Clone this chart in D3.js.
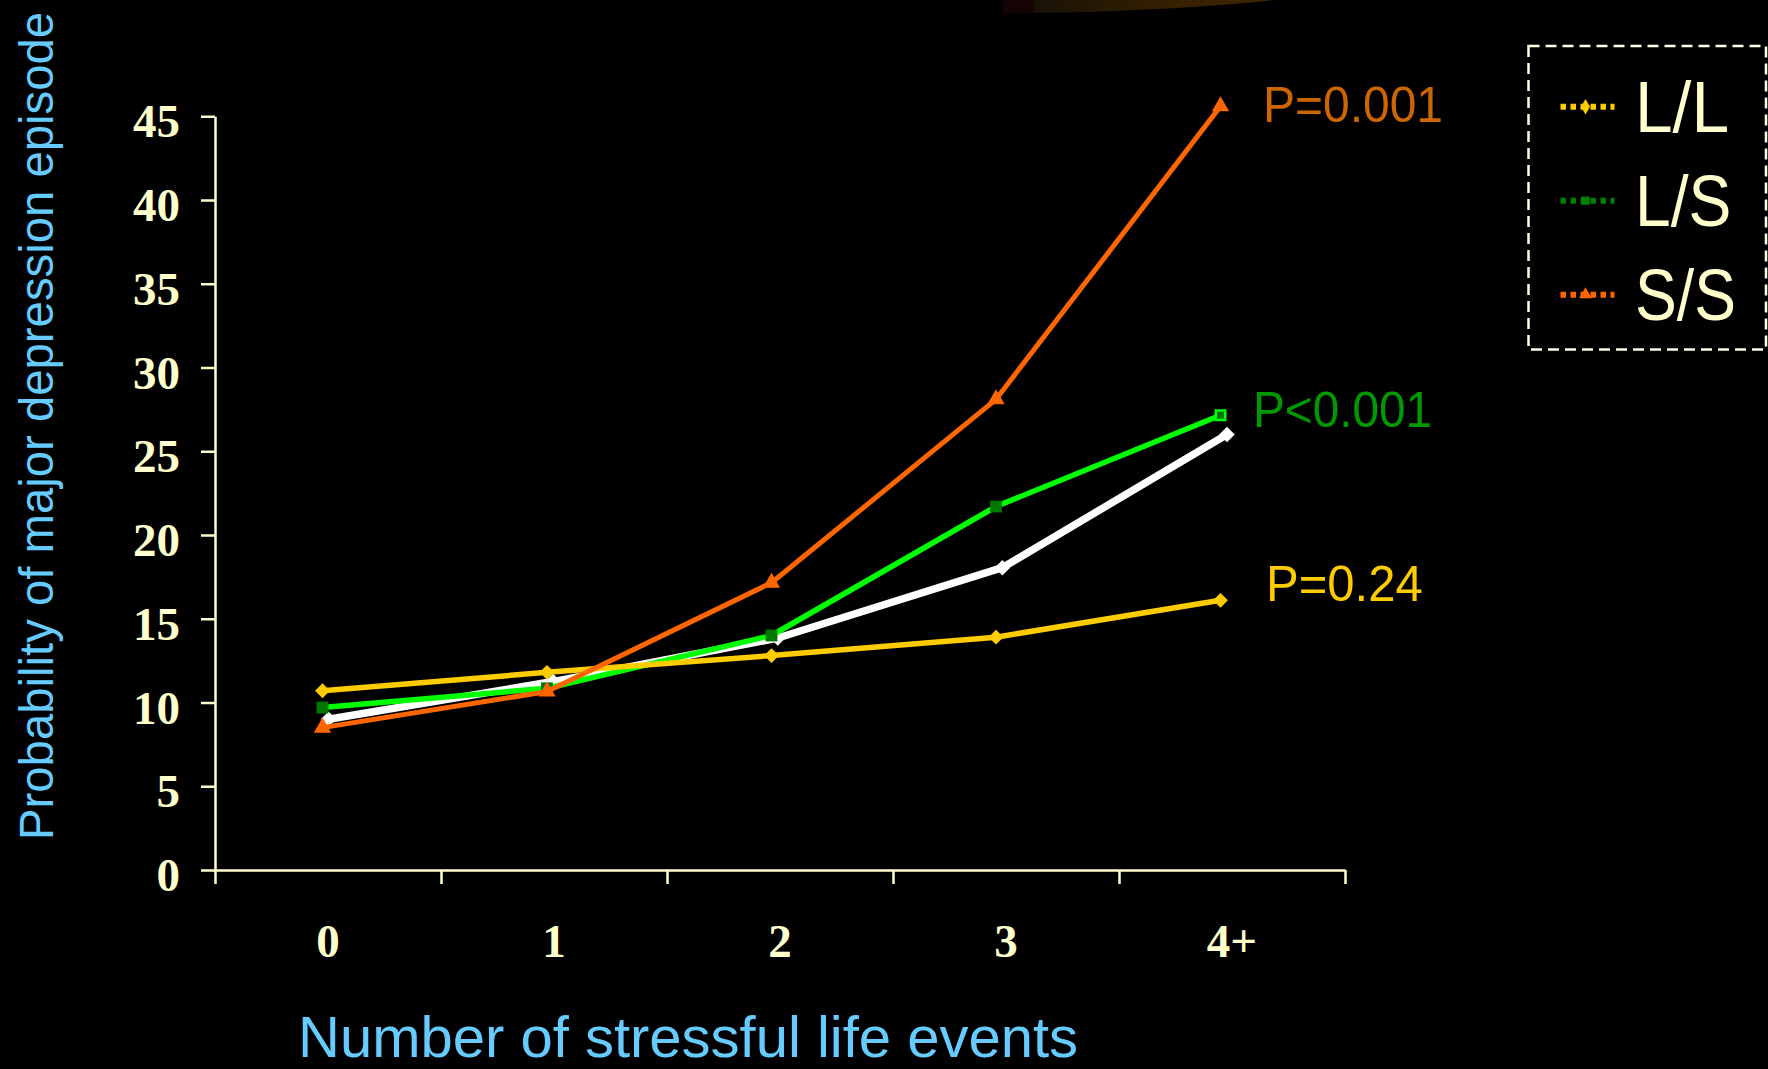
<!DOCTYPE html>
<html><head><meta charset="utf-8">
<script src="https://cdn.jsdelivr.net/npm/d3@7"></script>
<style>html,body{margin:0;padding:0;background:#000;overflow:hidden}</style>
</head><body><svg id="chart" width="1768" height="1069"></svg>
<script>
// ---- data ----
const categories = ["0", "1", "2", "3", "4+"];
const yTicks = [0, 5, 10, 15, 20, 25, 30, 35, 40, 45];
const seriesLL = [10.7, 11.8, 12.8, 13.9, 16.1];
const seriesLS = [9.7, 10.85, 14.0, 21.7, 27.15];
const seriesSS = [8.5, 10.65, 17.15, 28.1, 45.6];
const seriesAll = [9.0, 11.25, 13.85, 18.05, 26.0];
const legendLabels = ["L/L", "L/S", "S/S"];
const pLabels = ["P=0.24", "P<0.001", "P=0.001"];
const xTitle = "Number of stressful life events";
const yTitle = "Probability of major depression episode";

// ---- drawing ----
const svg = d3.select("#chart");
const cream = "#FFFFCC";
const tickFont = "'Liberation Serif','Times New Roman',serif";
const sansFont = "'Liberation Sans',Arial,sans-serif";

const y = d3.scaleLinear().domain([0, 45]).range([870, 116.25]);
const xBand = d3.scaleBand().domain(categories).range([215, 1345]);
const xEdge = d3.scaleLinear().domain([0, categories.length]).range([215, 1345]);
const xPt = d3.scalePoint().domain(categories).range([322.5, 1220.5]);
const xPtAll = d3.scalePoint().domain(categories).range([328.5, 1227]);

// decorative background arc at top
const defs = svg.append("defs");
const grad = defs.append("linearGradient").attr("id", "arcGrad")
  .attr("x1", 0).attr("x2", 1).attr("y1", 0).attr("y2", 0);
[[0, "#160303"], [0.11, "#160303"], [0.12, "#1a1306"], [0.7, "#3a2200"], [1, "#3e2500"]]
  .forEach(([o, c]) => grad.append("stop").attr("offset", o).attr("stop-color", c));
svg.append("path")
  .attr("d", "M1003,0 V13.3 C1100,13 1200,8 1274,0 Z")
  .attr("fill", "url(#arcGrad)");

// y axis
const yAxis = d3.axisLeft(y).tickValues(yTicks).tickSize(14).tickSizeOuter(0).tickPadding(21);
const gy = svg.append("g").attr("transform", "translate(215,0)").call(yAxis);
gy.select(".domain").attr("stroke", cream).attr("stroke-width", 2.5);
gy.selectAll(".tick line").attr("stroke", cream).attr("stroke-width", 2.5);
gy.selectAll(".tick text").attr("fill", cream).attr("font-family", tickFont)
  .attr("font-weight", "bold").attr("font-size", 47).attr("dy", "0.44em");

// x axis (boundary ticks)
const xAxisEdges = d3.axisBottom(xEdge).tickValues(d3.range(categories.length + 1))
  .tickFormat("").tickSize(14).tickSizeOuter(0);
const gx = svg.append("g").attr("transform", "translate(0,870)").call(xAxisEdges);
gx.select(".domain").attr("stroke", cream).attr("stroke-width", 2.5);
gx.selectAll(".tick line").attr("stroke", cream).attr("stroke-width", 2.5);

// x axis labels (band centers)
const xAxisLabels = d3.axisBottom(xBand).tickSize(0).tickPadding(54);
const gxl = svg.append("g").attr("transform", "translate(0,870)").call(xAxisLabels);
gxl.select(".domain").remove();
gxl.selectAll(".tick text").attr("fill", cream).attr("font-family", tickFont)
  .attr("font-weight", "bold").attr("font-size", 47);

// axis titles
svg.append("text").text(xTitle)
  .attr("x", 298).attr("y", 1057)
  .attr("fill", "#66CCFF").attr("font-family", sansFont).attr("font-size", 58);
svg.append("text").text(yTitle)
  .attr("transform", "translate(53,840) rotate(-90)")
  .attr("fill", "#66CCFF").attr("font-family", sansFont).attr("font-size", 47.3);

// series
function drawSeries(values, xs, color, width, markerFn) {
  const line = d3.line().x((d, i) => xs(categories[i])).y(d => y(d));
  const g = svg.append("g");
  g.append("path").datum(values).attr("d", line)
    .attr("fill", "none").attr("stroke", color).attr("stroke-width", width)
    .attr("stroke-linejoin", "round");
  values.forEach((v, i) => markerFn(g, xs(categories[i]), y(v), i));
}

const mkDiamond = (fill, size) => (g, cx, cy) =>
  g.append("path").attr("d", d3.symbol().type(d3.symbolSquare).size(size)())
    .attr("transform", `translate(${cx},${cy}) rotate(45)`).attr("fill", fill);
const mkSquare = (g, cx, cy, i) =>
  g.append("path").attr("d", d3.symbol().type(d3.symbolSquare).size(i === categories.length - 1 ? 90 : 140)())
    .attr("transform", `translate(${cx},${cy})`)
    .attr("fill", "#007700")
    .attr("stroke", i === categories.length - 1 ? "#00FF00" : "none")
    .attr("stroke-width", 2.5);
const mkTriangle = (g, cx, cy) =>
  g.append("path").attr("d", d3.symbol().type(d3.symbolTriangle).size(130)())
    .attr("transform", `translate(${cx},${cy})`).attr("fill", "#FF6600");

drawSeries(seriesAll, xPtAll, "#FFFFFF", 7.5, mkDiamond("#FFFFFF", 120));
drawSeries(seriesLS, xPt, "#00FF00", 5.5, mkSquare);
drawSeries(seriesLL, xPt, "#FFCC00", 5.5, mkDiamond("#FFCC00", 110));
drawSeries(seriesSS, xPt, "#FF6600", 5, mkTriangle);

// p-value labels
const pColors = ["#FFCC00", "#009900", "#CC6600"];
const pPos = [[1266, 601, 156.7], [1253, 427.3, 179], [1263, 121.7, 180]];
pLabels.forEach((t, i) => {
  svg.append("text").text(t)
    .attr("x", pPos[i][0]).attr("y", pPos[i][1])
    .attr("textLength", pPos[i][2]).attr("lengthAdjust", "spacingAndGlyphs")
    .attr("fill", pColors[i]).attr("font-family", sansFont).attr("font-size", 50);
});

// legend
const lg = svg.append("g");
lg.append("rect").attr("x", 1528.5).attr("y", 46).attr("width", 237.5).attr("height", 303.5)
  .attr("fill", "none").attr("stroke", "#FFFFE6").attr("stroke-width", 2.5)
  .attr("stroke-dasharray", "11,6");
const legColors = ["#FFCC00", "#008000", "#FF6600"];
const legShapes = [d3.symbolDiamond, d3.symbolSquare, d3.symbolTriangle];
const legWidths = [94, 96.5, 101];
legendLabels.forEach((t, i) => {
  const cy = 106.7 + i * 94;
  lg.append("line").attr("x1", 1560.5).attr("x2", 1614.5).attr("y1", cy).attr("y2", cy)
    .attr("stroke", legColors[i]).attr("stroke-width", 6).attr("stroke-dasharray", "5.5,4.5");
  lg.append("path").attr("d", d3.symbol().type(legShapes[i]).size(70)())
    .attr("transform", `translate(1585.5,${cy})`).attr("fill", legColors[i]);
  lg.append("text").text(t).attr("x", 1635).attr("y", cy + 25)
    .attr("textLength", legWidths[i]).attr("lengthAdjust", "spacingAndGlyphs")
    .attr("fill", cream).attr("font-family", sansFont).attr("font-size", 72);
});
</script>
</body></html>
